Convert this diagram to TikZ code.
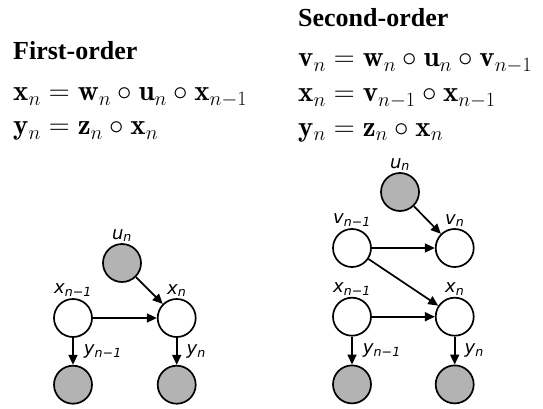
\RequirePackage{fix-cm}
\documentclass[tikz,border=0pt]{standalone}
\usepackage{fontspec}
\newfontfamily\headfont{Liberation Serif}
\newfontfamily\labfont{DejaVu Sans}
\definecolor{obsGray}{HTML}{B3B3B3}
\usetikzlibrary{arrows.meta, positioning}

\newcommand{\glab}[2]{\textit{#1}\textsubscript{\textit{#2}}}

\begin{document}
\begin{tikzpicture}[x=1pt, y=-1pt,
  node distance=27pt and 64pt,
  lab/.style={font=\labfont\fontsize{18}{20}\selectfont, inner sep=1pt},
  head/.style={font=\headfont\bfseries\fontsize{26}{30}\selectfont, anchor=base west, inner sep=0pt},
  eqn/.style={font=\fontsize{29}{34}\selectfont, anchor=base west, inner sep=0pt},
  hid/.style={circle, draw, line width=1.7pt, fill=white, minimum size=38pt, inner sep=0pt},
  obs/.style={hid, fill=obsGray},
  arr/.style={-{Triangle[length=10pt, width=9pt]}, line width=1.7pt}
]
  \useasboundingbox (0,0) rectangle (543,409);

  % first-order model
  \node[head] (head1) at (13,60) {First-order};
  \node[eqn] (eq1a) at (13,101) {$\mathbf{x}_n = \mathbf{w}_n \circ \mathbf{u}_n \circ \mathbf{x}_{n-1}$};
  \node[eqn] (eq1b) at (13,135) {$\mathbf{y}_n = \mathbf{z}_n \circ \mathbf{x}_n$};

  \node[hid, label={[lab]above:\glab{x}{n−1}}] (xa) at (73,318) {};
  \node[hid, right=of xa, label={[lab]above:\glab{x}{n}}] (xb) {};
  \node[obs, below=of xa] (ya) {};
  \node[obs, below=of xb] (yb) {};
  \node[obs, label={[lab]above:\glab{u}{n}}] (ua) at (122,263) {};

  \draw[arr] (xa) -- (xb);
  \draw[arr] (ua) -- (xb);
  \draw[arr] (xa) -- node[lab, right=9pt] {\glab{y}{n−1}} (ya);
  \draw[arr] (xb) -- node[lab, right=8pt] {\glab{y}{n}} (yb);

  % second-order model
  \node[head] (head2) at (298,27) {Second-order};
  \node[eqn] (eq2a) at (298,67) {$\mathbf{v}_n = \mathbf{w}_n \circ \mathbf{u}_n \circ \mathbf{v}_{n-1}$};
  \node[eqn] (eq2b) at (298,102) {$\mathbf{x}_n = \mathbf{v}_{n-1} \circ \mathbf{x}_{n-1}$};
  \node[eqn] (eq2c) at (298,136) {$\mathbf{y}_n = \mathbf{z}_n \circ \mathbf{x}_n$};

  \node[hid, label={[lab]above:\glab{v}{n−1}}] (vc) at (352,248) {};
  \node[hid, right=63pt of vc, label={[lab]above:\glab{v}{n}}] (vd) {};
  \node[hid, below=29pt of vc, label={[lab]above:\glab{x}{n−1}}] (xc) {};
  \node[hid, below=29pt of vd, label={[lab]above:\glab{x}{n}}] (xd) {};
  \node[obs, below=28pt of xc] (yc) {};
  \node[obs, below=28pt of xd] (yd) {};
  \node[obs, label={[lab]above:\glab{u}{n}}] (ub) at (400,192) {};

  \draw[arr] (ub) -- (vd);
  \draw[arr] (vc) -- (vd);
  \draw[arr] (vc) -- (xd);
  \draw[arr] (xc) -- (xd);
  \draw[arr] (xc) -- node[lab, right=9pt] {\glab{y}{n−1}} (yc);
  \draw[arr] (xd) -- node[lab, right=8pt] {\glab{y}{n}} (yd);
\end{tikzpicture}
\end{document}
